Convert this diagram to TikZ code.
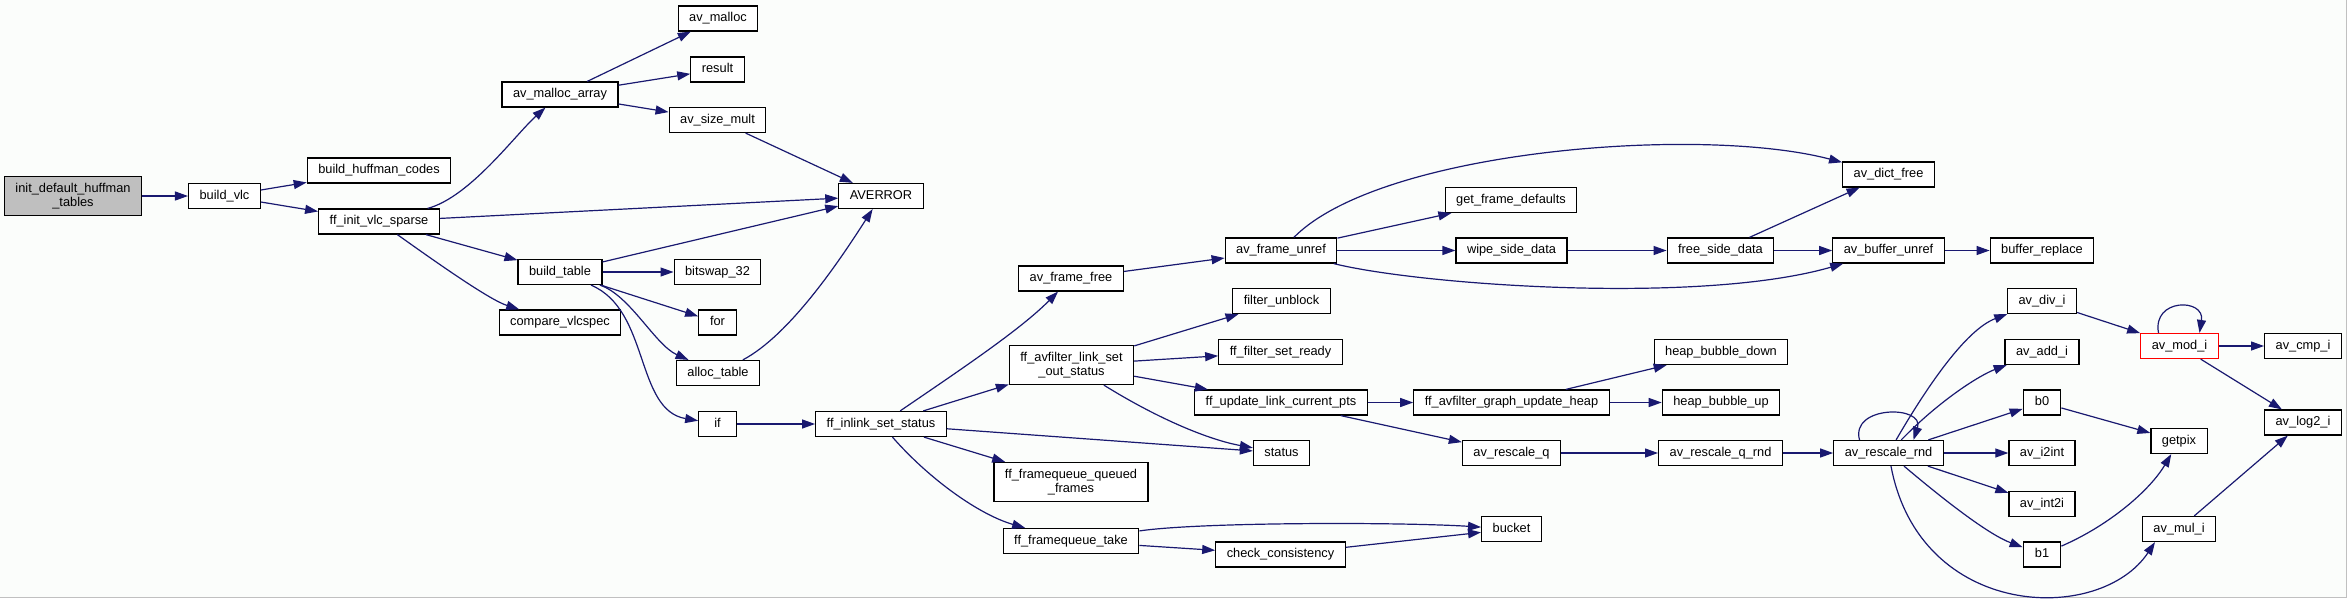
\documentclass[tikz,border=0pt]{standalone}
\usepackage{fontspec}
\setmainfont{Liberation Sans}
\usepackage{xcolor}
\usepackage{tikz}
\usetikzlibrary{arrows.meta}
\definecolor{edgeblue}{HTML}{191970}
\definecolor{rootgray}{HTML}{BFBFBF}
\definecolor{paper}{HTML}{FBFDFB}
\definecolor{cyclered}{HTML}{FF0000}
\definecolor{rimgray}{HTML}{C0C0C0}
\tikzset{
    fnbox/.style={
        draw=black, fill=white, line width=1.2pt,
        font=\fontsize{12.8pt}{14.5pt}\selectfont,
        inner xsep=11pt, inner ysep=0pt,
        minimum height=25pt, minimum width=37.5pt,
        text height=9.5pt, text depth=3pt,
    },
    fnwrap/.style={
        draw=black, fill=white, line width=1.2pt,
        font=\fontsize{12.8pt}{14.5pt}\selectfont,
        inner xsep=11pt, inner ysep=2pt,
        minimum height=39pt, align=center,
    },
    rootbox/.style={fnwrap, fill=rootgray},
    cyclebox/.style={fnbox, draw=cyclered},
    call/.style={
        -{Triangle[length=13pt, width=9pt]}, edgeblue, line width=1.2pt,
    },
}

\begin{document}
\begin{tikzpicture}[x=1pt, y=-1pt]

% Canvas and frame
\fill[paper] (0,0) rectangle (2347,598);
\useasboundingbox (0,0) rectangle (2347,598);
\draw[rimgray, line width=1pt] (0,597.5) -- (2346.5,597.5) -- (2346.5,0);

% ═══ VLC SIDE (left) ═══
\node[rootbox] (init) at (73,196) {init\_default\_huffman\\\_tables};
\node[fnbox] (buildvlc) at (224.5,196) {build\_vlc};
\node[fnbox] (huffcodes) at (379,170.5) {build\_huffman\_codes};
\node[fnbox] (initvlc) at (379,221.5) {ff\_init\_vlc\_sparse};
\node[fnbox] (mallocarr) at (560,94.5) {av\_malloc\_array};
\node[fnbox] (buildtab) at (560,272) {build\_table};
\node[fnbox] (cmpvlc) at (560,322.5) {compare\_vlcspec};
\node[fnbox] (avmalloc) at (718,18.5) {av\_malloc};
\node[fnbox] (result) at (717.5,69.5) {result};
\node[fnbox] (sizemult) at (717.5,120) {av\_size\_mult};
\node[fnbox] (bitswap) at (717.5,272) {bitswap\_32};
\node[fnbox] (for) at (717.5,322.5) {for};
\node[fnbox] (alloctab) at (718,373) {alloc\_table};
\node[fnbox] (if) at (717.5,424) {if};
\node[fnbox] (averror) at (881,196) {AVERROR};
\node[fnbox] (inlink) at (881,424) {ff\_inlink\_set\_status};

% ═══ FILTER / FRAME SIDE (middle) ═══
\node[fnbox] (framefree) at (1071,278.5) {av\_frame\_free};
\node[fnwrap] (linkset) at (1071.5,365) {ff\_avfilter\_link\_set\\\_out\_status};
\node[fnwrap] (queued) at (1071,482) {ff\_framequeue\_queued\\\_frames};
\node[fnbox] (fqtake) at (1071,541) {ff\_framequeue\_take};
\node[fnbox] (frameunref) at (1281,250.5) {av\_frame\_unref};
\node[fnbox] (unblock) at (1281.5,301) {filter\_unblock};
\node[fnbox] (setready) at (1280.5,352) {ff\_filter\_set\_ready};
\node[fnbox] (updpts) at (1281,402.5) {ff\_update\_link\_current\_pts};
\node[fnbox] (status) at (1281.5,453) {status};
\node[fnbox] (checkc) at (1280.5,554.5) {check\_consistency};
\node[fnbox] (getdef) at (1511,200) {get\_frame\_defaults};
\node[fnbox] (wipe) at (1511.5,250.5) {wipe\_side\_data};
\node[fnbox] (heapupd) at (1511.5,402.5) {ff\_avfilter\_graph\_update\_heap};
\node[fnbox] (rescaleq) at (1511.5,453) {av\_rescale\_q};
\node[fnbox] (bucket) at (1511.5,529) {bucket};
\node[fnbox] (freeside) at (1720.5,250.5) {free\_side\_data};
\node[fnbox] (bubdown) at (1721,352) {heap\_bubble\_down};
\node[fnbox] (bubup) at (1721,402.5) {heap\_bubble\_up};
\node[fnbox] (qrnd) at (1720.5,453) {av\_rescale\_q\_rnd};

% ═══ INTEGER MATH SIDE (right) ═══
\node[fnbox] (dictfree) at (1888.5,174.5) {av\_dict\_free};
\node[fnbox] (bufunref) at (1888.5,250.5) {av\_buffer\_unref};
\node[fnbox] (rescalernd) at (1888.5,453) {av\_rescale\_rnd};
\node[fnbox] (bufrepl) at (2042,250.5) {buffer\_replace};
\node[fnbox] (divi) at (2042,301) {av\_div\_i};
\node[fnbox] (addi) at (2042,352) {av\_add\_i};
\node[fnbox] (bzero) at (2042,402.5) {b0};
\node[fnbox] (i2int) at (2042,453) {av\_i2int};
\node[fnbox] (int2i) at (2042,504) {av\_int2i};
\node[fnbox] (bone) at (2042,554.5) {b1};
\node[cyclebox] (modi) at (2179.5,346) {av\_mod\_i};
\node[fnbox] (getpix) at (2179,441) {getpix};
\node[fnbox] (muli) at (2179,529) {av\_mul\_i};
\node[fnbox] (cmpi) at (2303,346) {av\_cmp\_i};
\node[fnbox] (log2i) at (2303,422.5) {av\_log2\_i};

% Calls, left
\draw[call] (init) -- (buildvlc);
\draw[call] (buildvlc) -- (huffcodes);
\draw[call] (buildvlc) -- (initvlc);
\draw[call] (initvlc) .. controls (470,197) and (515,135) .. (mallocarr);
\draw[call] (initvlc) .. controls (440,265) and (490,300) .. (cmpvlc);
\draw[call] (initvlc) -- (averror);
\draw[call] (initvlc) -- (buildtab);
\draw[call] (mallocarr) -- (avmalloc);
\draw[call] (mallocarr) -- (result);
\draw[call] (mallocarr) -- (sizemult);
\draw[call] (sizemult) -- (averror);
\draw[call] (buildtab) -- (averror);
\draw[call] (buildtab) -- (bitswap);
\draw[call] (buildtab) -- (for);
\draw[call] (buildtab) .. controls (630,295) and (655,345) .. (alloctab);
\draw[call] (buildtab) .. controls (650,310) and (635,410) .. (if);
\draw[call] (alloctab) .. controls (790,335) and (840,260) .. (averror);
\draw[call] (if) -- (inlink);

% Calls, middle
\draw[call] (inlink) .. controls (960,370) and (1020,330) .. (framefree);
\draw[call] (inlink) -- (linkset);
\draw[call] (inlink) -- (status);
\draw[call] (inlink) -- (queued);
\draw[call] (inlink) .. controls (930,480) and (980,515) .. (fqtake);
\draw[call] (framefree) -- (frameunref);
\draw[call] (frameunref) .. controls (1380,150) and (1700,125) .. (dictfree);
\draw[call] (frameunref) -- (getdef);
\draw[call] (frameunref) -- (wipe);
\draw[call] (frameunref) .. controls (1420,285) and (1700,305) .. (bufunref);
\draw[call] (wipe) -- (freeside);
\draw[call] (freeside) -- (dictfree);
\draw[call] (freeside) -- (bufunref);
\draw[call] (bufunref) -- (bufrepl);
\draw[call] (linkset) -- (unblock);
\draw[call] (linkset) -- (setready);
\draw[call] (linkset) -- (updpts);
\draw[call] (linkset) .. controls (1160,420) and (1210,440) .. (status);
\draw[call] (updpts) -- (heapupd);
\draw[call] (updpts) -- (rescaleq);
\draw[call] (heapupd) -- (bubdown);
\draw[call] (heapupd) -- (bubup);
\draw[call] (rescaleq) -- (qrnd);
\draw[call] (qrnd) -- (rescalernd);
\draw[call] (fqtake) .. controls (1200,522) and (1400,522) .. (bucket);
\draw[call] (fqtake) -- (checkc);
\draw[call] (checkc) -- (bucket);

% Calls, right
\draw[call] ([xshift=-29pt]rescalernd.north) .. controls (1850,405) and (1925,405) .. ([xshift=25pt]rescalernd.north);
\draw[call] (rescalernd) .. controls (1925,390) and (1965,330) .. (divi);
\draw[call] (rescalernd) .. controls (1940,400) and (1980,375) .. (addi);
\draw[call] (rescalernd) -- (bzero);
\draw[call] (rescalernd) -- (i2int);
\draw[call] (rescalernd) -- (int2i);
\draw[call] (rescalernd) .. controls (1950,505) and (1990,535) .. (bone);
\draw[call] (rescalernd) .. controls (1920,620) and (2100,625) .. ([xshift=-24pt]muli.south);
\draw[call] (divi) -- (modi);
\draw[call] ([xshift=-21pt]modi.north) .. controls (2152,298) and (2205,298) .. ([xshift=20pt]modi.north);
\draw[call] (modi) -- (cmpi);
\draw[call] (modi) -- (log2i);
\draw[call] (bzero) -- (getpix);
\draw[call] (bone) .. controls (2110,525) and (2150,490) .. (getpix);
\draw[call] (muli) -- (log2i);

\end{tikzpicture}
\end{document}
